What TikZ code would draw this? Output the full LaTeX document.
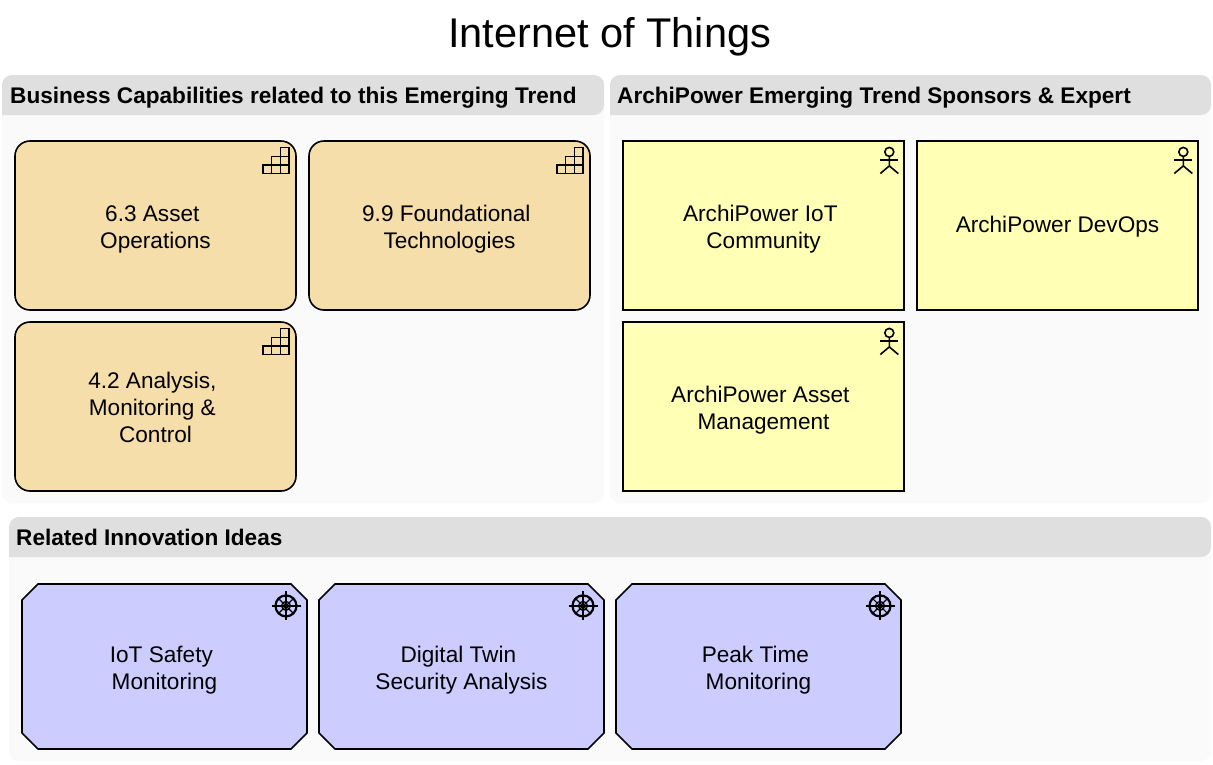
\documentclass[tikz,border=0pt]{standalone}
\usepackage{fontspec}
\setmainfont{Liberation Sans}
\usetikzlibrary{shapes.misc}
\definecolor{capfill}{HTML}{F5DEAA}
\definecolor{actorfill}{HTML}{FFFFB5}
\definecolor{ideafill}{HTML}{CCCCFF}
\definecolor{grouphead}{HTML}{DFDFDF}
\definecolor{groupbody}{HTML}{FAFAFA}
\newcommand\tsp{\hspace*{6.3pt}\mbox{}}
\newcommand\lift[1][23pt]{\rule{0pt}{#1}}
\tikzset{
    boxbase/.style={draw=black,line width=1.6pt,inner sep=0pt,align=center,
        font=\fontsize{22.6}{27}\selectfont},
    capbox/.style={boxbase,fill=capfill,rounded corners=15,minimum width=281,minimum height=169},
    actorbox/.style={boxbase,fill=actorfill,minimum width=281,minimum height=169},
    ideabox/.style={boxbase,fill=ideafill,chamfered rectangle,chamfered rectangle xsep=8,
        chamfered rectangle ysep=8,minimum width=285,minimum height=165},
    headtext/.style={anchor=base west,inner sep=0pt,font=\fontsize{22.6}{27}\selectfont\bfseries},
    capicon/.pic={
        \draw[line width=1.5pt] (-34,25) rectangle (-8,33.5);
        \draw[line width=1.5pt] (-25.5,16.3) rectangle (-8,25);
        \draw[line width=1.5pt] (-16.5,7.5) rectangle (-8,16.3);
        \draw[line width=1.5pt] (-25.5,25) -- (-25.5,33.5) (-16.5,16.3) -- (-16.5,33.5);
    },
    actoricon/.pic={
        \draw[line width=1.6pt] (-15.5,11.7) circle (4.5);
        \draw[line width=1.6pt] (-15.5,16.2) -- (-15.5,25.7) -- (-24.5,33.3);
        \draw[line width=1.6pt] (-15.5,25.7) -- (-6.5,33.3);
        \draw[line width=1.6pt] (-24.5,20) -- (-6.5,20);
    },
    ideaicon/.pic={
        \draw[line width=2.2pt] (-21.8,22.7) circle (10.5);
        \draw[line width=1.2pt] (-21.8,22.7) circle (4.5);
        \foreach \ang in {0,90,180,270} {
            \draw[line width=1.2pt] (-21.8,22.7) -- ++(\ang:14.5);
        }
        \foreach \ang in {45,135,225,315} {
            \draw[line width=1.2pt] (-21.8,22.7) -- ++(\ang:11);
        }
    }
}
\begin{document}
\begin{tikzpicture}[x=1pt,y=-1pt]
    \useasboundingbox (0,0) rectangle (1213,764);
    \node[inner sep=0pt,font=\fontsize{41.5}{48}\selectfont] (title) at (609.5,36.5) {Internet of Things};
    \fill[groupbody,rounded corners=10] (2,75) rectangle (604,503);
    \fill[grouphead,rounded corners=10] (2,115) -- (2,75) -- (604,75) -- (604,115) [sharp corners] -- cycle;
    \fill[groupbody,rounded corners=10] (610,75) rectangle (1211,503);
    \fill[grouphead,rounded corners=10] (610,115) -- (610,75) -- (1211,75) -- (1211,115) [sharp corners] -- cycle;
    \fill[groupbody,rounded corners=10] (9,517) rectangle (1211,761);
    \fill[grouphead,rounded corners=10] (9,557) -- (9,517) -- (1211,517) -- (1211,557) [sharp corners] -- cycle;
    \node[headtext] (headcap) at (10,103) {Business Capabilities related to this Emerging Trend};
    \node[headtext] (headactor) at (617,103) {ArchiPower Emerging Trend Sponsors \& Expert};
    \node[headtext] (headidea) at (16,545) {Related Innovation Ideas};
    \node[capbox] (cap1) at (155.5,225.5) {\lift 6.3 Asset\tsp\\Operations};
    \node[capbox] (cap2) at (449.5,225.5) {\lift 9.9 Foundational\tsp\\Technologies};
    \node[capbox] (cap3) at (155.5,406.5) {\lift[19pt]4.2 Analysis,\tsp\\Monitoring \&\tsp\\Control};
    \node[actorbox] (actor1) at (763.5,225.5) {\lift ArchiPower IoT\tsp\\Community};
    \node[actorbox] (actor2) at (1057.5,225.5) {\lift[19pt]ArchiPower DevOps};
    \node[actorbox] (actor3) at (763.5,406.5) {\lift ArchiPower Asset\tsp\\Management};
    \node[ideabox] (idea1) at (164.5,666.5) {\lift IoT Safety\tsp\\Monitoring};
    \node[ideabox] (idea2) at (461.5,666.5) {\lift Digital Twin\tsp\\Security Analysis};
    \node[ideabox] (idea3) at (758.5,666.5) {\lift Peak Time\tsp\\Monitoring};
    \foreach \nd in {cap1,cap2,cap3} {
        \pic at (\nd.north east) {capicon};
    }
    \foreach \nd in {actor1,actor2,actor3} {
        \pic at (\nd.north east) {actoricon};
    }
    \foreach \nd in {idea1,idea2,idea3} {
        \pic at (\nd.north -| \nd.east) {ideaicon};
    }
\end{tikzpicture}
\end{document}
